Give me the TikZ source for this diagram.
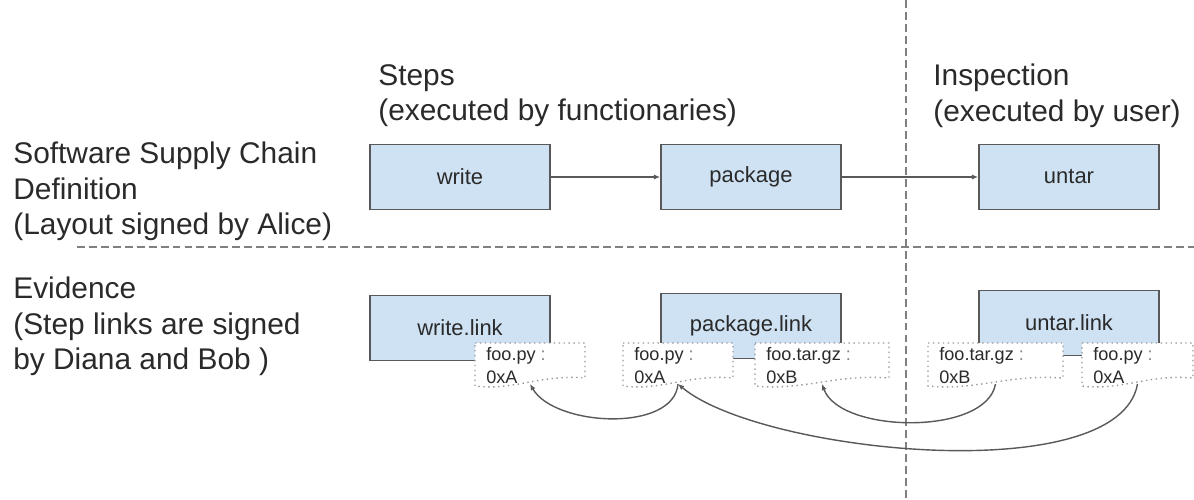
\documentclass[tikz,border=0pt]{standalone}
\usepackage{fontspec}
\setmainfont{Liberation Sans}
\usetikzlibrary{arrows.meta}
\definecolor{boxblue}{HTML}{CFE2F3}
\definecolor{edgegray}{HTML}{595959}
\definecolor{inkgray}{HTML}{2A2A2A}
\tikzset{
  stepbox/.style={draw=edgegray, line width=1pt, fill=boxblue, minimum width=3.6cm, minimum height=1.3cm, font=\fontsize{12.5}{15}\selectfont, text=inkgray},
  lbl/.style={anchor=north west, inner sep=0pt, align=left, font=\fontsize{17}{20}\selectfont, text=inkgray},
  tagtext/.style={anchor=north west, inner sep=0pt, align=left, font=\fontsize{10.3}{13}\selectfont, text=inkgray},
  tagline/.style={draw=gray!80, dotted, fill=white, line width=0.8pt},
  sep/.style={draw=gray, dash pattern=on 4.5pt off 2.3pt, line width=0.8pt},
  flow/.style={->, >={Latex[length=3.5pt,width=3pt]}, draw=edgegray, line width=0.8pt}
}
% name, left x, right x, text
\newcommand{\doctag}[4]{%
  \draw[tagline] (#2,343) -- (#3,343) -- (#3,378)
    .. controls ({#2+0.6*(#3-#2)},374) and ({#2+0.35*(#3-#2)},391) .. (#2,386) -- cycle;
  \coordinate (#1) at ({(#2+#3)/2},384);
  \node[tagtext] (#1-txt) at ({#2+11},347) {#4};
}
\begin{document}
\begin{tikzpicture}[x=0.02cm, y=-0.02cm]
\useasboundingbox (0,0) rectangle (1194,500);

%separators
\draw[sep] (906,0) -- (906,500);
\draw[sep] (77,247) -- (1194,247);

%row labels
\node[lbl] (defn) at (13,142) {Software Supply Chain\\Definition\\(Layout signed by Alice)};
\node[lbl] (evid) at (13,277) {Evidence\\(Step links are signed\\by Diana and Bob )};
\node[lbl] (steps) at (378,64) {Steps\\(executed by functionaries)};
\node[lbl] (insp) at (933,64) {Inspection\\(executed by user)};

%layout steps
\node[stepbox] (write) at (460,177) {write};
\node[stepbox] (package) at (751,177) {package};
\node[stepbox] (untar) at (1069,177) {untar};
\draw[flow] (write) -- (package);
\draw[flow] (package) -- (untar);

%link files
\node[stepbox] (writelink) at (460,328) {write.link};
\node[stepbox] (packagelink) at (751,326) {package.link};
\node[stepbox] (untarlink) at (1069,323) {untar.link};

%hashes
\doctag{writepy}{475}{585}{foo.py \textcolor{gray}{:}\\0xA}
\doctag{pkgpy}{623}{733}{foo.py \textcolor{gray}{:}\\0xA}
\doctag{pkggz}{755}{889}{foo.tar.gz \textcolor{gray}{:}\\0xB}
\doctag{untargz}{928}{1063}{foo.tar.gz \textcolor{gray}{:}\\0xB}
\doctag{untarpy}{1082}{1193}{foo.py \textcolor{gray}{:}\\0xA}

\draw[flow] (pkgpy) to[out=-95, in=-60, looseness=0.85] (writepy);
\draw[flow] (untarpy) to[out=-100, in=-40, looseness=0.6] (pkgpy);
\draw[flow] (untargz) to[out=-100, in=-70, looseness=0.78] (pkggz);
\end{tikzpicture}
\end{document}
